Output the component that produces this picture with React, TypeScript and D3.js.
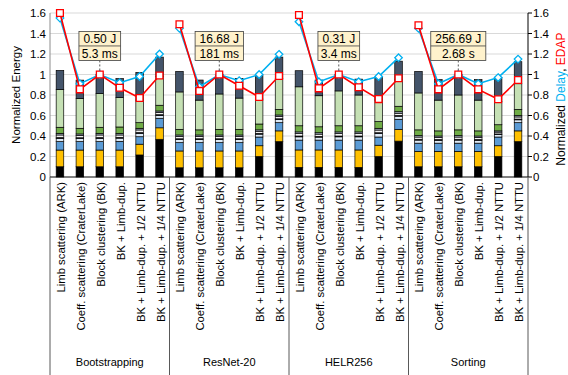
import { useEffect, useRef } from "react";
import * as d3 from "d3";

const groups = ["Bootstrapping", "ResNet-20", "HELR256", "Sorting"];
const configs = [
  "Limb scattering (ARK)",
  "Coeff. scattering (CraterLake)",
  "Block clustering (BK)",
  "BK + Limb-dup.",
  "BK + Limb-dup. + 1/2 NTTU",
  "BK + Limb-dup. + 1/4 NTTU",
];
const calloutEnergy = ["0.50 J", "16.68 J", "0.31 J", "256.69 J"];
const calloutTime = ["5.3 ms", "181 ms", "3.4 ms", "2.68 s"];
const yTicks = [0, 0.2, 0.4, 0.6, 0.8, 1, 1.2, 1.4, 1.6];

// energy breakdown per bar (6 configs x 4 workloads), bottom to top
const eBlack = [
  0.1, 0.1, 0.1, 0.1, 0.215, 0.368,
  0.09, 0.09, 0.09, 0.09, 0.2, 0.345,
  0.094, 0.094, 0.094, 0.094, 0.2, 0.35,
  0.1, 0.1, 0.1, 0.1, 0.2, 0.345,
];
const eOrange = [
  0.163, 0.163, 0.163, 0.163, 0.105, 0.112,
  0.164, 0.164, 0.164, 0.164, 0.105, 0.105,
  0.17, 0.17, 0.17, 0.17, 0.11, 0.115,
  0.15, 0.15, 0.15, 0.15, 0.105, 0.105,
];
const eBlue = [
  0.082, 0.082, 0.082, 0.085, 0.073, 0.093,
  0.081, 0.081, 0.081, 0.081, 0.085, 0.08,
  0.096, 0.096, 0.096, 0.096, 0.08, 0.098,
  0.08, 0.08, 0.08, 0.08, 0.085, 0.08,
];
const ePale = [
  0.032, 0.03, 0.032, 0.031, 0.033, 0.028,
  0.03, 0.03, 0.03, 0.03, 0.028, 0.03,
  0.032, 0.029, 0.032, 0.032, 0.034, 0.03,
  0.03, 0.028, 0.03, 0.028, 0.024, 0.028,
];
const eNavy = [
  0.008, 0.008, 0.008, 0.008, 0.008, 0.007,
  0.008, 0.008, 0.008, 0.008, 0.007, 0.008,
  0.008, 0.007, 0.008, 0.008, 0.008, 0.007,
  0.008, 0.007, 0.008, 0.007, 0.006, 0.007,
];
const eWhite = [
  0.025, 0.022, 0.025, 0.023, 0.025, 0.022,
  0.022, 0.022, 0.022, 0.022, 0.021, 0.022,
  0.024, 0.022, 0.024, 0.024, 0.026, 0.022,
  0.022, 0.021, 0.022, 0.021, 0.018, 0.021,
];
const eGray = [
  0.016, 0.015, 0.016, 0.016, 0.016, 0.014,
  0.015, 0.015, 0.015, 0.015, 0.014, 0.015,
  0.016, 0.014, 0.016, 0.016, 0.017, 0.015,
  0.015, 0.014, 0.015, 0.014, 0.012, 0.014,
];
const eGreen = [
  0.059, 0.055, 0.059, 0.062, 0.055, 0.056,
  0.055, 0.05, 0.055, 0.055, 0.057, 0.055,
  0.06, 0.058, 0.06, 0.06, 0.065, 0.053,
  0.055, 0.05, 0.055, 0.05, 0.06, 0.06,
];
const eLightGreen = [
  0.37, 0.29, 0.33, 0.287, 0.22, 0.28,
  0.365, 0.29, 0.345, 0.305, 0.243, 0.3,
  0.38, 0.303, 0.34, 0.3, 0.21, 0.256,
  0.36, 0.3, 0.34, 0.3, 0.225, 0.25,
];
const eSlate = [
  0.185, 0.18, 0.185, 0.185, 0.27, 0.19,
  0.2, 0.196, 0.19, 0.19, 0.235, 0.21,
  0.157, 0.153, 0.16, 0.155, 0.22, 0.184,
  0.21, 0.2, 0.2, 0.2, 0.235, 0.215,
];

const seriesData = [eBlack, eOrange, eBlue, ePale, eNavy, eWhite, eGray, eGreen, eLightGreen, eSlate];
const seriesColors = [
  "#000000", "#FFC000", "#5B9BD5", "#DEEBF7", "#333F50",
  "#F2F2F2", "#ADB9CA", "#70AD47", "#C5E0B4", "#44546A",
];

const edap = [
  1.6, 0.855, 1.0, 0.87, 0.77, 0.99,
  1.49, 0.84, 1.0, 0.89, 0.78, 0.985,
  1.58, 0.865, 1.0, 0.875, 0.76, 0.963,
  1.48, 0.855, 1.0, 0.855, 0.758, 0.946,
];
const delay = [
  1.55, 0.91, 1.0, 0.92, 0.98, 1.2,
  1.45, 0.88, 1.0, 0.94, 1.0, 1.197,
  1.515, 0.93, 1.0, 0.93, 0.98, 1.164,
  1.45, 0.91, 1.0, 0.91, 0.97, 1.15,
];

const W = 568;
const H = 375;

const App = () => {
  const svgRef = useRef(null);

  useEffect(() => {
    const margin = { top: 13, right: 40, bottom: 198, left: 50 };
    const x0 = margin.left;
    const x1 = W - margin.right;
    const yBase = H - margin.bottom;

    const svg = d3.select(svgRef.current);
    svg.selectAll("*").remove();

    const n = groups.length * configs.length;
    const keys = d3.range(n).map(String);
    const x = d3.scaleBand().domain(keys).range([x0, x1]).paddingInner(0.62).paddingOuter(0.31);
    const y = d3.scaleLinear().domain([0, 1.6]).range([yBase, margin.top]);
    const cx = (i) => x(String(i)) + x.bandwidth() / 2;

    // gridlines
    svg.append("g")
      .selectAll("line")
      .data(yTicks.filter((d) => d > 0))
      .enter()
      .append("line")
      .attr("x1", x0)
      .attr("x2", x1)
      .attr("y1", (d) => y(d))
      .attr("y2", (d) => y(d))
      .attr("stroke", "#D9D9D9")
      .attr("stroke-width", 1);

    // stacked bars
    const rows = d3.range(n).map((i) => {
      const r = { key: String(i) };
      seriesData.forEach((s, k) => (r["s" + k] = s[i]));
      return r;
    });
    const stack = d3.stack().keys(seriesData.map((_, k) => "s" + k))(rows);

    svg.append("g")
      .selectAll("g")
      .data(stack)
      .enter()
      .append("g")
      .attr("fill", (d, k) => seriesColors[k])
      .selectAll("rect")
      .data((d) => d)
      .enter()
      .append("rect")
      .attr("x", (d) => x(d.data.key))
      .attr("y", (d) => y(d[1]))
      .attr("width", x.bandwidth())
      .attr("height", (d) => y(d[0]) - y(d[1]))
      .attr("stroke", "#000")
      .attr("stroke-width", 0.7);

    // axes
    svg.append("line")
      .attr("x1", x0).attr("x2", x0)
      .attr("y1", margin.top).attr("y2", yBase)
      .attr("stroke", "#8C8C8C");
    svg.append("line")
      .attr("x1", x1).attr("x2", x1)
      .attr("y1", margin.top).attr("y2", yBase)
      .attr("stroke", "#000");
    svg.append("line")
      .attr("x1", x0).attr("x2", x1)
      .attr("y1", yBase).attr("y2", yBase)
      .attr("stroke", "#000");

    const fmt = (d) => String(Math.round(d * 10) / 10);
    svg.append("g")
      .selectAll("text")
      .data(yTicks)
      .enter()
      .append("text")
      .attr("x", x0 - 4)
      .attr("y", (d) => y(d))
      .attr("dy", "0.35em")
      .attr("text-anchor", "end")
      .attr("font-size", 11.5)
      .text(fmt);

    svg.append("g")
      .selectAll("line")
      .data(yTicks)
      .enter()
      .append("line")
      .attr("x1", x1)
      .attr("x2", x1 + 4)
      .attr("y1", (d) => y(d))
      .attr("y2", (d) => y(d))
      .attr("stroke", "#000");

    svg.append("g")
      .selectAll("text")
      .data(yTicks)
      .enter()
      .append("text")
      .attr("x", x1 + 5)
      .attr("y", (d) => y(d))
      .attr("dy", "0.35em")
      .attr("font-size", 11.5)
      .text(fmt);

    // axis titles
    svg.append("text")
      .attr("transform", `translate(20,${y(0.8)}) rotate(-90)`)
      .attr("text-anchor", "middle")
      .attr("font-size", 11.5)
      .text("Normalized Energy");

    const rt = svg.append("text")
      .attr("transform", `translate(565,${y(0.76)}) rotate(-90)`)
      .attr("text-anchor", "middle")
      .attr("font-size", 12);
    rt.append("tspan").attr("fill", "#000").text("Normalized ");
    rt.append("tspan").attr("fill", "#00B0F0").text("Delay");
    rt.append("tspan").attr("fill", "#000").text(", ");
    rt.append("tspan").attr("fill", "#FF0000").text("EDAP");

    // category labels
    svg.append("g")
      .selectAll("text")
      .data(d3.range(n))
      .enter()
      .append("text")
      .attr("transform", (i) => `translate(${cx(i) + 1},${yBase + 5}) rotate(-90)`)
      .attr("dy", "0.35em")
      .attr("text-anchor", "end")
      .attr("font-size", 11.3)
      .text((i) => configs[i % configs.length]);

    // group separators and labels
    const per = configs.length;
    const bounds = d3.range(groups.length + 1).map((g) =>
      g === groups.length ? x1 : x(String(g * per)) - x.step() * x.paddingOuter()
    );
    svg.append("g")
      .selectAll("line")
      .data(bounds)
      .enter()
      .append("line")
      .attr("x1", (d) => d)
      .attr("x2", (d) => d)
      .attr("y1", yBase)
      .attr("y2", H)
      .attr("stroke", "#595959");

    svg.append("g")
      .selectAll("text")
      .data(groups)
      .enter()
      .append("text")
      .attr("x", (d, g) => (bounds[g] + bounds[g + 1]) / 2)
      .attr("y", 366)
      .attr("text-anchor", "middle")
      .attr("font-size", 11)
      .text((d) => d);

    // delay and EDAP lines, one per workload
    const drawSeries = (vals, color, symbolType, size) => {
      groups.forEach((_, g) => {
        const idx = d3.range(g * per, g * per + per);
        svg.append("path")
          .datum(idx)
          .attr("fill", "none")
          .attr("stroke", color)
          .attr("stroke-width", 1.6)
          .attr("d", d3.line().x((i) => cx(i)).y((i) => y(vals[i])));
        svg.append("g")
          .selectAll("path")
          .data(idx)
          .enter()
          .append("path")
          .attr("transform", (i) => `translate(${cx(i)},${y(vals[i])})`)
          .attr("d", d3.symbol(symbolType, size))
          .attr("fill", "#fff")
          .attr("stroke", color)
          .attr("stroke-width", 1.3);
      });
    };
    drawSeries(delay, "#00B0F0", d3.symbolDiamond2, 36);
    drawSeries(edap, "#FF0000", d3.symbolSquare, 46);

    // callouts with absolute BK values
    groups.forEach((_, g) => {
      const i = g * per + 2;
      const bx = cx(i);
      const top = y(1.42);
      const hRow = 14.5;
      const co = svg.append("g");
      co.append("line")
        .attr("x1", bx).attr("x2", bx)
        .attr("y1", top + 2 * hRow).attr("y2", y(edap[i]) - 4)
        .attr("stroke", "#595959")
        .attr("stroke-dasharray", "2,2");
      const rect = co.append("rect").attr("fill", "#FFF2CC").attr("stroke", "#404040").attr("stroke-width", 0.8);
      const divider = co.append("line").attr("stroke", "#404040").attr("stroke-width", 0.8);
      const t1 = co.append("text")
        .attr("x", bx).attr("y", top + hRow / 2).attr("dy", "0.36em")
        .attr("text-anchor", "middle").attr("font-size", 12).text(calloutEnergy[g]);
      co.append("text")
        .attr("x", bx).attr("y", top + hRow * 1.5).attr("dy", "0.36em")
        .attr("text-anchor", "middle").attr("font-size", 12).text(calloutTime[g]);
      const bw = t1.node().getComputedTextLength() + 9;
      rect.attr("x", bx - bw / 2).attr("y", top).attr("width", bw).attr("height", 2 * hRow);
      divider.attr("x1", bx - bw / 2).attr("x2", bx + bw / 2).attr("y1", top + hRow).attr("y2", top + hRow);
    });
  }, []);

  return (
    <svg
      ref={svgRef}
      width={W}
      height={H}
      style={{ position: "absolute", left: 0, top: 0, background: "#fff", fontFamily: "'Liberation Sans', Arial, sans-serif" }}
    ></svg>
  );
};

export default App;
